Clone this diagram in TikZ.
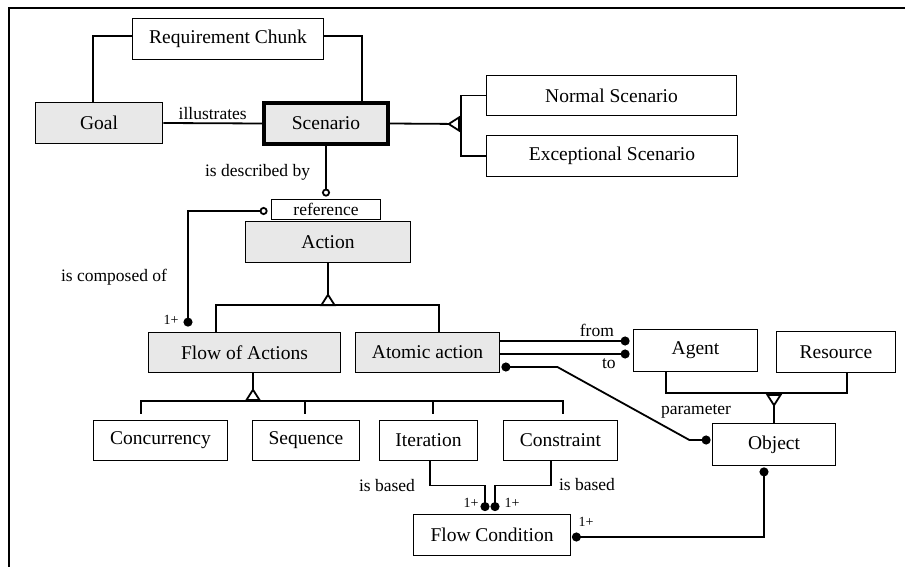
\documentclass[tikz,border=0pt]{standalone}
\usepackage{fontspec}
\setmainfont{Liberation Serif}
\usetikzlibrary{arrows.meta}
\definecolor{boxgray}{RGB}{232,232,232}

\begin{document}
\begin{tikzpicture}[x=1pt,y=-1pt,line width=1.8pt,
    class node/.style={draw,rectangle,inner sep=0pt,font=\fontsize{19.5}{22}\selectfont},
    gray node/.style={class node,fill=boxgray},
    label node/.style={inner sep=1pt,font=\fontsize{17.5}{20}\selectfont},
    count node/.style={inner sep=1pt,font=\fontsize{14}{16}\selectfont},
    gen arrow/.style={-{Triangle[length=13pt,width=16pt,fill=white]}},
    dot end/.style={-{Circle[length=9pt]}},
    ring end/.style={-{Circle[open,length=8pt]}}]
  \useasboundingbox (0,0) rectangle (905,567);
  \draw[line width=2.5pt] (9,567) -- (9,8) -- (905,8);

  \node[class node,minimum width=191pt,minimum height=41pt] (1) at (228,39) {Requirement Chunk};
  \node[gray node,minimum width=127pt,minimum height=41pt] (2) at (99,123) {Goal};
  \node[gray node,line width=4pt,minimum width=124pt,minimum height=41pt] (3) at (326,123.5) {Scenario};
  \node[class node,minimum width=250pt,minimum height=40pt] (4) at (611.5,95.5) {Normal Scenario};
  \node[class node,minimum width=251pt,minimum height=41pt] (5) at (612,156) {Exceptional Scenario};
  \node[class node,font=\fontsize{17.5}{20}\selectfont,minimum width=109pt,minimum height=20pt] (6) at (326,209.5) {reference};
  \node[gray node,minimum width=165pt,minimum height=41pt] (7) at (328,242) {Action};
  \node[gray node,minimum width=192pt,minimum height=40pt] (8) at (244.5,352.5) {Flow of Actions};
  \node[gray node,minimum width=144pt,minimum height=40pt] (9) at (427.5,352.5) {Atomic action};
  \node[class node,minimum width=124pt,minimum height=42pt] (10) at (695.5,350.5) {Agent};
  \node[class node,minimum width=119pt,minimum height=41pt] (11) at (836,352) {Resource};
  \node[class node,minimum width=123pt,minimum height=42pt] (12) at (774,444.5) {Object};
  \node[class node,minimum width=134pt,minimum height=40pt] (13) at (160.5,440.5) {Concurrency};
  \node[class node,minimum width=107pt,minimum height=40pt] (14) at (306,440.5) {Sequence};
  \node[class node,minimum width=98pt,minimum height=40pt] (15) at (428.5,440.5) {Iteration};
  \node[class node,minimum width=114pt,minimum height=40pt] (16) at (560.5,440.5) {Constraint};
  \node[class node,minimum width=157pt,minimum height=41pt] (17) at (492,535) {Flow Condition};

  \coordinate (g1) at (461,124);
  \coordinate (g2) at (328,305);
  \coordinate (g3) at (774,393);
  \coordinate (g4) at (253,401);

  % Goal, Scenario and Requirement Chunk
  \draw ([xshift=-6pt]2.north) |- ([yshift=3pt]1.west);
  \draw ([yshift=3pt]1.east) -| ([xshift=36pt]3.north);
  \draw (2.east) -- node[label node,above=2pt] (l1) {illustrates} (3.west);

  % kinds of Scenario
  \draw (3.east) -- (g1);
  \draw (4.west) -| (g1) |- (5.west);
  \draw[gen arrow] (g1) -- ++(-14,0);

  % Scenario to Action
  \draw[ring end,shorten >=2pt] (3.south) -- node[label node,left=14pt] (l2) {is described by} (6.north);
  \draw[{Circle[length=9pt]}-{Circle[open,length=8pt]},shorten <=5pt,shorten >=3pt] ([xshift=-56.5pt]8.north) |- ([yshift=-1.5pt]6.west);
  \node[label node] (l3) at (114,277) {is composed of};
  \node[count node] (c1) at (171,320) {1+};

  % kinds of Action
  \draw (7.south) -- (g2);
  \draw ([xshift=-28.5pt]8.north) |- (g2) -| ([xshift=11.5pt]9.north);
  \draw[gen arrow] (g2) -- ++(0,-12);

  % kinds of Flow of Actions
  \draw ([xshift=8.5pt]8.south) -- (g4);
  \draw[shorten >=6pt] (g4) -| ([xshift=-19.5pt]13.north);
  \draw[shorten >=6pt] (g4) -| ([xshift=-1pt]14.north);
  \draw[shorten >=6pt] (g4) -| ([xshift=4.5pt]15.north);
  \draw[shorten >=6pt] (g4) -| ([xshift=2.5pt]16.north);
  \draw[gen arrow] (g4) -- ++(0,-13);

  % Agent and Resource
  \draw ([xshift=-29.5pt]10.south) |- (g3) -| ([xshift=11pt]11.south);
  \draw (g3) -- (12.north);
  \draw[gen arrow] (g3) -- ++(0,14);

  % Atomic action links
  \draw[dot end,shorten >=3pt] ([yshift=11.5pt]9.east) -- node[label node,above=2pt,pos=0.73] (l4) {from} ([yshift=9.5pt]10.west);
  \draw[dot end,shorten >=3pt] ([yshift=-1.5pt]9.east) -- node[label node,below=3pt,pos=0.82] (l5) {to} ([yshift=-3.5pt]10.west);
  \draw[{Circle[length=9pt]}-{Circle[length=9pt]},shorten <=1pt,shorten >=1pt] ([yshift=-14.5pt]9.east) -- ++(57,0) -- ++(132,73) -- ([yshift=4.5pt]12.west);
  \node[label node] (l6) at (696,411) {parameter};

  % Flow Condition
  \draw[{Circle[length=9pt]}-{Circle[length=9pt]},shorten <=1pt,shorten >=0.5pt] ([xshift=-10pt]12.south) |- ([yshift=-2pt]17.east);
  \draw[dot end,shorten >=2.5pt] ([xshift=1.5pt]15.south) -- ++(0,24) -| ([xshift=-7pt]17.north);
  \draw[dot end,shorten >=2.5pt] ([xshift=-9.5pt]16.south) -- ++(0,24) -| ([xshift=3pt]17.north);
  \node[label node] (l7) at (387,486) {is based};
  \node[label node] (l8) at (587,485) {is based};
  \node[count node] (c2) at (471,503) {1+};
  \node[count node] (c3) at (512,503) {1+};
  \node[count node] (c4) at (586,522) {1+};
\end{tikzpicture}
\end{document}
